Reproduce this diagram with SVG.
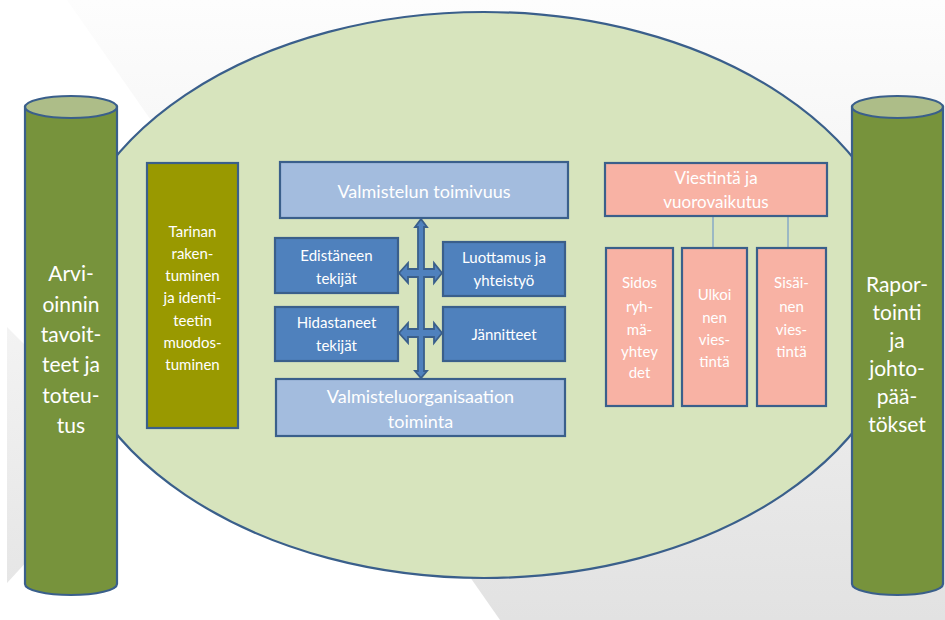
<svg xmlns="http://www.w3.org/2000/svg" width="945" height="620" viewBox="0 0 945 620">
  <defs>
    <linearGradient id="bgGrad" x1="0" y1="0" x2="0" y2="1">
      <stop offset="0" stop-color="#fdfdfd"/>
      <stop offset="1" stop-color="#e2e2e2"/>
    </linearGradient>
    <linearGradient id="bandGrad" x1="0" y1="0" x2="0" y2="1">
      <stop offset="0" stop-color="#f3f3f3"/>
      <stop offset="1" stop-color="#e6e6e6"/>
    </linearGradient>
    <style>
      .stk { stroke: #3A5F8B; stroke-width: 2.2; }
      .cyl { fill: #77933C; }
      .cyltop { fill: #ADBD88; }
      .olive { fill: #999900; }
      .light { fill: #A3BCDE; }
      .dark { fill: #4F81BD; }
      .pink { fill: #F8B2A4; }
      text { font-family: Lato, "Open Sans", "Liberation Sans", sans-serif; fill: #ffffff; text-anchor: middle; }
      .t21 { font-size: 21px; }
      .t18 { font-size: 18px; }
      .t17 { font-size: 17px; }
      .t15 { font-size: 15px; }
      .conn { stroke: #7BA0C8; stroke-width: 1.3; fill: none; }
    </style>
  </defs>

  <rect x="0" y="0" width="945" height="620" fill="#ffffff"/>
  <polygon points="67,0 945,0 945,620 500,620" fill="url(#bgGrad)"/>
  <polygon points="7,327 30,350 30,558 7,583" fill="url(#bandGrad)"/>

  <g id="ellipse">
    <ellipse cx="484" cy="295" rx="422" ry="283" fill="#D7E4BD" class="stk"/>
  </g>

  <g id="cyl-left">
    <path d="M25,107 L25,584 A46,11 0 0 0 117,584 L117,107 Z" class="cyl stk"/>
    <ellipse cx="71" cy="107" rx="46" ry="11" class="cyltop stk"/>
    <text class="t21" x="71" y="281">Arvi-</text>
    <text class="t21" x="71" y="312">oinnin</text>
    <text class="t21" x="71" y="342">tavoit-</text>
    <text class="t21" x="71" y="372">teet ja</text>
    <text class="t21" x="71" y="403">toteu-</text>
    <text class="t21" x="71" y="433">tus</text>
  </g>

  <g id="cyl-right">
    <path d="M852,107 L852,584 A45.5,11 0 0 0 943,584 L943,107 Z" class="cyl stk"/>
    <ellipse cx="897.5" cy="107" rx="45.5" ry="11" class="cyltop stk"/>
    <text class="t21" x="897" y="292">Rapor-</text>
    <text class="t21" x="897" y="320">tointi</text>
    <text class="t21" x="897" y="348">ja</text>
    <text class="t21" x="897" y="376">johto-</text>
    <text class="t21" x="897" y="404">pää-</text>
    <text class="t21" x="897" y="432">tökset</text>
  </g>

  <g id="tarinan">
    <rect x="147" y="163" width="91" height="265" class="olive stk"/>
    <text class="t15" x="192.5" y="237">Tarinan</text>
    <text class="t15" x="192.5" y="259">raken-</text>
    <text class="t15" x="192.5" y="281">tuminen</text>
    <text class="t15" x="192.5" y="303">ja identi-</text>
    <text class="t15" x="192.5" y="326">teetin</text>
    <text class="t15" x="192.5" y="348">muodos-</text>
    <text class="t15" x="192.5" y="370">tuminen</text>
  </g>

  <g id="connectors">
    <path d="M421,219 L427,227 L424,227 L424,269 L434,269 L434,263 L442,273 L434,283 L434,277 L424,277 L424,329 L434,329 L434,323 L442,333 L434,343 L434,337 L424,337 L424,371 L427,371 L421,378 L415,371 L418,371 L418,337 L408,337 L408,343 L399,333 L408,323 L408,329 L418,329 L418,277 L408,277 L408,283 L399,273 L408,263 L408,269 L418,269 L418,227 L415,227 Z" fill="#4F81BD" stroke="#3A5F8B" stroke-width="1.8" stroke-linejoin="miter"/>
    <line class="conn" x1="713" y1="216" x2="713" y2="248"/>
    <line class="conn" x1="788" y1="216" x2="788" y2="248"/>
    <line x1="637" y1="337" x2="637" y2="367" stroke="#3F72B5" stroke-width="1.3"/>
  </g>

  <g id="valmistelun-toimivuus">
    <rect x="280" y="162" width="288" height="56" class="light stk"/>
    <text class="t18" x="424" y="198">Valmistelun toimivuus</text>
  </g>

  <g id="edistaneen">
    <rect x="275" y="238" width="123" height="55" class="dark stk"/>
    <text class="t15" x="336.5" y="261">Edistäneen</text>
    <text class="t15" x="336.5" y="284">tekijät</text>
  </g>

  <g id="luottamus">
    <rect x="443" y="242" width="122" height="54" class="dark stk"/>
    <text class="t15" x="504" y="263">Luottamus ja</text>
    <text class="t15" x="504" y="286">yhteistyö</text>
  </g>

  <g id="hidastaneet">
    <rect x="275" y="307" width="123" height="54" class="dark stk"/>
    <text class="t15" x="336.5" y="328">Hidastaneet</text>
    <text class="t15" x="336.5" y="351">tekijät</text>
  </g>

  <g id="jannitteet">
    <rect x="443" y="307" width="122" height="54" class="dark stk"/>
    <text class="t15" x="504" y="340">Jännitteet</text>
  </g>

  <g id="valmisteluorganisaatio">
    <rect x="276" y="379" width="289" height="57" class="light stk"/>
    <text class="t18" x="420.5" y="403">Valmisteluorganisaation</text>
    <text class="t18" x="420.5" y="428">toiminta</text>
  </g>

  <g id="viestinta">
    <rect x="605" y="163" width="222" height="53" class="pink stk"/>
    <text class="t17" x="716" y="184">Viestintä ja</text>
    <text class="t17" x="716" y="208">vuorovaikutus</text>
  </g>

  <g id="sidos">
    <rect x="606" y="248" width="67" height="158" class="pink stk"/>
    <text class="t15" x="639.5" y="288">Sidos</text>
    <text class="t15" x="639.5" y="312">ryh-</text>
    <text class="t15" x="639.5" y="335">mä-</text>
    <text class="t15" x="639.5" y="357">yhtey</text>
    <text class="t15" x="639.5" y="378">det</text>
  </g>

  <g id="ulkoinen">
    <rect x="682" y="248" width="65" height="158" class="pink stk"/>
    <text class="t15" x="714.5" y="300">Ulkoi</text>
    <text class="t15" x="714.5" y="323">nen</text>
    <text class="t15" x="714.5" y="345">vies-</text>
    <text class="t15" x="714.5" y="367">tintä</text>
  </g>

  <g id="sisainen">
    <rect x="757" y="248" width="69" height="158" class="pink stk"/>
    <text class="t15" x="791.5" y="288">Sisäi-</text>
    <text class="t15" x="791.5" y="312">nen</text>
    <text class="t15" x="791.5" y="335">vies-</text>
    <text class="t15" x="791.5" y="357">tintä</text>
  </g>
</svg>
